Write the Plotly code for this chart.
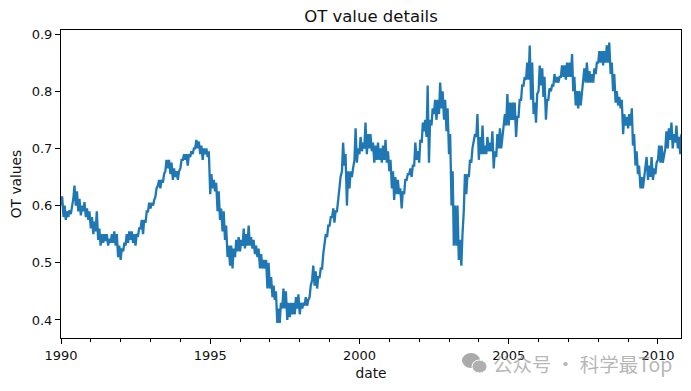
import pandas as pd
import plotly.graph_objects as go

# (low, high) pairs read for each month of each year
y1990 = [.600,.616,.580,.600,.575,.590,.580,.592,.585,.595,.612,.635,.600,.625,.590,.612,.583,.600,.590,.606,.580,.595,.575,.590]
y1991 = [.560,.580,.550,.572,.555,.590,.540,.560,.530,.550,.535,.550,.538,.550,.530,.542,.535,.550,.535,.555,.530,.550,.510,.530]
y1992 = [.505,.525,.520,.535,.530,.550,.535,.555,.540,.555,.535,.550,.530,.550,.548,.560,.560,.575,.550,.575,.570,.590,.590,.605]
y1993 = [.595,.605,.600,.610,.615,.630,.635,.645,.630,.645,.640,.655,.660,.680,.665,.680,.655,.675,.645,.665,.650,.660,.645,.660]
y1994 = [.665,.680,.680,.690,.680,.690,.670,.690,.685,.695,.690,.700,.700,.715,.700,.712,.690,.705,.680,.700,.690,.700,.685,.695]
y1995 = [.620,.655,.630,.645,.625,.640,.590,.625,.575,.595,.555,.590,.540,.565,.510,.530,.495,.530,.490,.525,.510,.540,.520,.545]
y1996 = [.520,.540,.530,.560,.525,.550,.530,.565,.530,.545,.525,.540,.515,.530,.510,.525,.490,.515,.490,.505,.490,.505,.455,.500]
y1997 = [.455,.475,.440,.460,.435,.450,.395,.420,.395,.430,.420,.455,.420,.450,.400,.430,.405,.430,.410,.430,.410,.440,.420,.445]
y1998 = [.410,.430,.420,.430,.425,.440,.425,.435,.440,.460,.470,.495,.460,.485,.455,.475,.475,.490,.490,.515,.530,.550,.545,.565]
y1999 = [.565,.580,.580,.595,.570,.590,.590,.615,.630,.650,.660,.710,.670,.690,.600,.660,.630,.660,.650,.665,.680,.735,.675,.700]
y2000 = [.690,.720,.695,.710,.700,.745,.690,.725,.700,.725,.695,.710,.675,.705,.680,.710,.680,.700,.675,.705,.680,.715,.675,.695]
y2001 = [.660,.680,.630,.660,.610,.650,.620,.645,.620,.630,.595,.625,.620,.645,.645,.655,.655,.665,.650,.670,.670,.710,.680,.695]
y2002 = [.675,.715,.710,.745,.730,.750,.720,.810,.675,.750,.740,.770,.760,.785,.750,.785,.760,.815,.770,.800,.750,.785,.730,.770]
y2003 = [.690,.725,.600,.660,.530,.600,.530,.600,.505,.540,.495,.550,.590,.655,.620,.655,.650,.680,.675,.700,.715,.725,.720,.760]
y2004 = [.680,.720,.690,.740,.690,.705,.690,.720,.695,.710,.695,.730,.665,.695,.685,.725,.700,.735,.700,.720,.740,.760,.740,.795]
y2005 = [.740,.780,.750,.780,.750,.780,.720,.755,.755,.785,.785,.810,.810,.825,.820,.850,.820,.880,.785,.850,.760,.780,.745,.795]
y2006 = [.800,.845,.810,.840,.790,.825,.750,.785,.785,.805,.800,.810,.810,.830,.815,.825,.815,.825,.825,.845,.825,.845,.820,.850]
y2007 = [.825,.850,.825,.865,.800,.825,.775,.800,.770,.800,.775,.800,.820,.840,.815,.850,.815,.835,.815,.830,.815,.840,.830,.850]
y2008 = [.850,.870,.850,.870,.845,.870,.850,.880,.850,.885,.830,.850,.800,.830,.780,.800,.775,.790,.770,.785,.725,.760,.740,.755]
y2009 = [.735,.760,.740,.770,.705,.725,.670,.695,.655,.670,.630,.650,.630,.650,.670,.685,.645,.670,.650,.685,.645,.665,.655,.675]
y2010 = [.680,.705,.675,.705,.675,.690,.700,.730,.700,.735,.715,.745,.700,.725,.710,.740,.700,.720,.690,.725]

ot_values = (y1990 + y1991 + y1992 + y1993 + y1994 + y1995 + y1996 + y1997 + y1998 + y1999 + y2000
             + y2001 + y2002 + y2003 + y2004 + y2005 + y2006 + y2007 + y2008 + y2009 + y2010)
dates = pd.date_range("1990-01-01", periods=len(ot_values), freq="SMS")

x_ticks = ["1990-01-01", "1995-01-01", "2000-01-01", "2005-01-01", "2010-01-01"]
x_labels = ["1990", "1995", "2000", "2005", "2010"]
y_ticks = [0.4, 0.5, 0.6, 0.7, 0.8, 0.9]
y_labels = ["0.4", "0.5", "0.6", "0.7", "0.8", "0.9"]

FONT = "DejaVu Sans"
fig = go.Figure(go.Scatter(x=dates, y=ot_values, mode="lines",
                           line=dict(color="#1f77b4", width=2.3), hoverinfo="skip"))
axis = dict(showgrid=False, zeroline=False, showline=True, linecolor="black", linewidth=1,
            mirror=True, ticks="outside", ticklen=5, tickwidth=1, tickcolor="black", automargin=False,
            tickfont=dict(family=FONT, size=13, color="#111111"))
fig.update_xaxes(range=["1990-01-01", "2010-10-10"], tickmode="array", tickvals=x_ticks,
                 ticktext=x_labels,
                 minor=dict(ticks="outside", ticklen=3, tickwidth=1, tickcolor="black", dtick="M12"),
                 title=dict(text="date", font=dict(family=FONT, size=13.8, color="#111111"), standoff=6), **axis)
fig.update_yaxes(range=[0.3685, 0.907], tickmode="array", tickvals=y_ticks, ticktext=y_labels,
                 title=dict(text="OT values", font=dict(family=FONT, size=13.8, color="#111111"), standoff=9), **axis)
# page body has an 8px margin, so the figure is 8px smaller and its margins are 8px less
fig.update_layout(
    width=683, height=383, margin=dict(l=53, r=10, t=22, b=53, pad=0, autoexpand=False),
    paper_bgcolor="white", plot_bgcolor="white", showlegend=False,
    title=dict(text="OT value details", x=(53 + 673) / 2 / 683, xanchor="center", y=1 - 8 / 383,
               yanchor="middle", font=dict(family=FONT, size=16.5, color="#111111")),
    annotations=[dict(text="公众号 · 科学最Top", xref="paper", yref="paper", x=(491 - 61) / 620,
                      y=(338 - 363) / 308, xanchor="left", yanchor="middle", showarrow=False,
                      font=dict(family="Noto Sans CJK SC", size=19.5, color="rgba(140,140,140,0.65)"))],
    shapes=[dict(type="circle", xref="paper", yref="paper", x0=(462 - 61) / 620, x1=(480 - 61) / 620,
                 y0=(338 - 368) / 308, y1=(338 - 353) / 308, fillcolor="rgba(165,165,165,0.95)", line_width=0),
            dict(type="circle", xref="paper", yref="paper", x0=(472 - 61) / 620, x1=(487 - 61) / 620,
                 y0=(338 - 373) / 308, y1=(338 - 360) / 308, fillcolor="rgba(175,175,175,1)",
                 line=dict(color="white", width=1))],
)
fig.write_html("out.html")
